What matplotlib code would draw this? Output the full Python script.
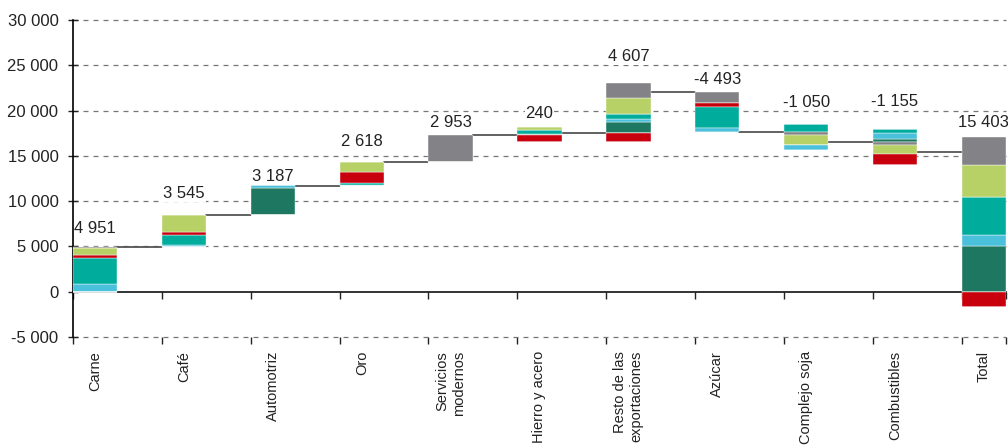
import numpy as np
import matplotlib.pyplot as plt
from matplotlib.ticker import FuncFormatter

plt.rcParams['font.family'] = ['Liberation Sans', 'DejaVu Sans']
plt.rcParams['font.size'] = 12

categorias = ["Carne", "Café", "Automotriz", "Oro", "Servicios\nmodernos", "Hierro y acero",
              "Resto de las\nexportaciones", "Azúcar", "Complejo soja", "Combustibles", "Total"]

# aporte de cada componente por rubro (orden de apilado de abajo hacia arriba)
verde_oscuro = [0, 0, 2950, 0, 0, 210, 1250, 0, 0, 260, 5000]
celeste = [880, 230, 300, 60, 0, 0, 330, -440, -470, 700, 1290]
turquesa = [2870, 1136, 0, 240, 0, 375, 550, -2300, 880, 440, 4220]
rojo = [250, 250, -63, 1280, 0, -670, -920, -480, 0, -1185, -1700]
verde_claro = [810, 1929, 0, 1038, 0, 325, 1765, 0, -1160, -1040, 3490]
gris = [141, 0, 0, 0, 2953, 0, 1632, -1273, -300, -330, 3103]

series = [verde_oscuro, celeste, turquesa, rojo, verde_claro, gris]
colores = ['#1e7760', '#4bc0db', '#00ac9b', '#c8000e', '#b7d167', '#838387']

# separacion de cada etiqueta sobre la barra (puntos)
sep_etiqueta = [13, 15, 6, 15, 9, 10, 19, 9, 16, 20, 10]

datos = np.array(series, dtype=float)
neto = datos.sum(axis=0)
n = len(categorias)
x = np.arange(n)
ancho = 0.5

acum = np.cumsum(neto[:-1])
base = np.concatenate([[0], acum[:-1], [0]])
nivel = np.concatenate([acum, [neto[-1]]])

fig = plt.figure(figsize=(10.08, 4.45), dpi=100)
ax = fig.add_axes([73 / 1008, 108 / 445, 933 / 1008, 317 / 445])

sube = base.copy()
baja = base.copy()
for vals, col in zip(series, colores):
    vals = np.array(vals, dtype=float)
    pos = np.where(vals > 0, vals, 0)
    ax.bar(x, pos, bottom=sube, width=ancho, color=col, edgecolor='white', linewidth=0.3, zorder=3)
    sube = sube + pos
for vals, col in zip(series[::-1], colores[::-1]):
    vals = np.array(vals, dtype=float)
    neg = np.where(vals < 0, vals, 0)
    ax.bar(x, neg, bottom=baja, width=ancho, color=col, edgecolor='white', linewidth=0.3, zorder=3)
    baja = baja + neg

# conectores
for i in range(n - 1):
    ax.plot([x[i] + ancho / 2, x[i + 1] - ancho / 2], [nivel[i], nivel[i]], color='#555555', lw=1.3, zorder=2)

# etiquetas de valor
tope = np.maximum(sube, base)
etiquetas = list(neto[:-1]) + [nivel[-1]]
for i in range(n):
    txt = f"{int(round(etiquetas[i])):,}".replace(",", " ")
    ax.annotate(txt, (x[i], tope[i]), xytext=(0, sep_etiqueta[i]), textcoords='offset points',
                ha='center', va='center', color='#222222', fontsize=12, zorder=4,
                bbox=dict(boxstyle='square,pad=0.05', fc='white', ec='none'))

ax.set_xlim(-0.25, n - 0.75)
ax.set_ylim(-5000, 30000)
ax.set_yticks(np.arange(-5000, 30001, 5000))
ax.yaxis.set_major_formatter(FuncFormatter(lambda v, p: f"{int(v):,}".replace(",", " ")))
ax.tick_params(axis='y', direction='inout', length=7, width=1, pad=7, colors='#222222')

ax.set_xticks(x)
ax.set_xticklabels(categorias, rotation=90, va='top', ha='center', multialignment='right', fontsize=10.5)
ax.set_xticks(np.concatenate([x - ancho / 2, [x[-1] + ancho / 2]]), minor=True)
ax.tick_params(axis='x', which='major', length=0, pad=10, colors='#222222')
ax.tick_params(axis='x', which='minor', direction='out', length=5, width=1, color='#222222')

ax.grid(axis='y', linestyle=(0, (4, 4)), color='#777777', lw=0.9)
for linea in ax.get_ygridlines():
    linea.set_clip_on(False)
ax.get_ygridlines()[1].set_visible(False)  # el cero va con linea continua
ax.set_axisbelow(True)
for s in ['top', 'right', 'bottom']:
    ax.spines[s].set_visible(False)
ax.spines['left'].set_linewidth(1.2)

# linea del cero con sus marcas
sec = ax.secondary_xaxis(5000 / 35000)
sec.set_xticks(np.concatenate([x - ancho / 2, [x[-1] + ancho / 2]]))
sec.tick_params(direction='out', length=5, width=1, labelbottom=False, color='#222222')
sec.spines['bottom'].set_linewidth(1.2)
sec.spines['bottom'].set_color('#111111')

fig.savefig('out.png', dpi=100)
